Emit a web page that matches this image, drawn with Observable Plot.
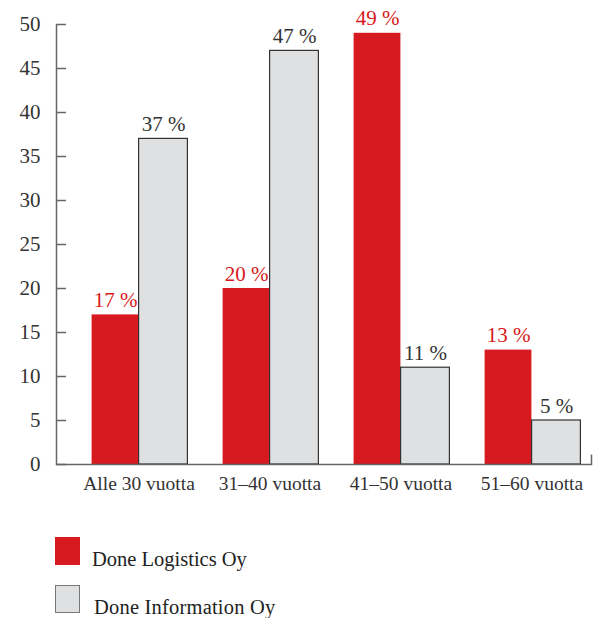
<!DOCTYPE html>
<html>
<head>
<meta charset="utf-8">
<script src="https://cdn.jsdelivr.net/npm/d3@7"></script>
<script src="https://cdn.jsdelivr.net/npm/@observablehq/plot@0.6"></script>
<style>
  body { margin: 0; background: #fff; font-family: "Liberation Serif", "DejaVu Serif", serif; }
  #chart svg { display: block; }
  .legend { margin-top: 32px; padding-left: 55px; color: #222; font-size: 20.5px; }
  .legend .item { display: flex; align-items: flex-end; height: 28px; margin-bottom: 20px; }
  .legend .sw { width: 25px; height: 28px; box-sizing: border-box; margin-right: 12px; }
  .legend .lbl { line-height: 20px; position: relative; top: 4px; white-space: nowrap; }
</style>
</head>
<body>
<div id="chart"></div>
<div class="legend">
  <div class="item"><div class="sw" style="background:#d71920"></div><span class="lbl" id="l0"></span></div>
  <div class="item"><div class="sw" style="background:#dfe0e2;border:1.5px solid #777"></div><span class="lbl" id="l1" style="margin-left:2px;letter-spacing:0.2px"></span></div>
</div>
<script>
const groups = ["Alle 30 vuotta", "31–40 vuotta", "41–50 vuotta", "51–60 vuotta"];
const logistics = [17, 20, 49, 13];
const information = [37, 47, 11, 5];
const seriesNames = ["Done Logistics Oy", "Done Information Oy"];
const yTicks = [0, 5, 10, 15, 20, 25, 30, 35, 40, 45, 50];

const red = "#d71920";
const grey = "#dfe0e2";

const dataL = groups.map((g, i) => ({group: g, value: logistics[i]}));
const dataI = groups.map((g, i) => ({group: g, value: information[i]}));

document.getElementById("l0").textContent = seriesNames[0];
document.getElementById("l1").textContent = seriesNames[1];

const W = 603, H = 505, mT = 24, mB = 41, mL = 56, mR = 12;
const fw = W - mL - mR, fh = H - mT - mB;

const chart = Plot.plot({
  width: W,
  height: H,
  marginTop: mT,
  marginBottom: mB,
  marginLeft: mL,
  marginRight: mR,
  style: {fontFamily: "'Liberation Serif', serif", fontSize: "19px", color: "#333", background: "#fff"},
  x: {domain: groups, range: [72.5, 597.5], padding: 0},
  y: {domain: [0, 50]},
  marks: [
    Plot.barY(dataL, {x: "group", y: "value", fill: red, insetLeft: 18.6, insetRight: 65.6}),
    Plot.barY(dataI, {x: "group", y: "value", fill: grey, stroke: "#333", strokeWidth: 1.2, insetLeft: 65.6, insetRight: 16.6}),
    Plot.text(dataL, {x: "group", y: "value", text: d => `${d.value} %`, dx: -23.5, dy: -8, lineAnchor: "bottom", fill: red, fontSize: 21}),
    Plot.text(dataI, {x: "group", y: "value", text: d => `${d.value} %`, dx: 24.5, dy: -8, lineAnchor: "bottom", fill: "#333", fontSize: 21}),
    // left + bottom axis lines (and short right-end tick) drawn from the frame
    Plot.frame({stroke: "#666", strokeWidth: 1.5, fill: "none", strokeDasharray: `0 ${fw + fh - 10} ${fw + fh + 10}`}),
    Plot.axisY({ticks: yTicks, tickSize: -10, tickPadding: 26, stroke: "#666", strokeWidth: 1.5, label: null, fontSize: 21, fill: "#333"}),
    Plot.axisX({tickSize: 0, tickPadding: 11.5, label: null, fontSize: 19.5, fill: "#333"})
  ]
});
document.getElementById("chart").append(chart);
</script>
</body>
</html>
